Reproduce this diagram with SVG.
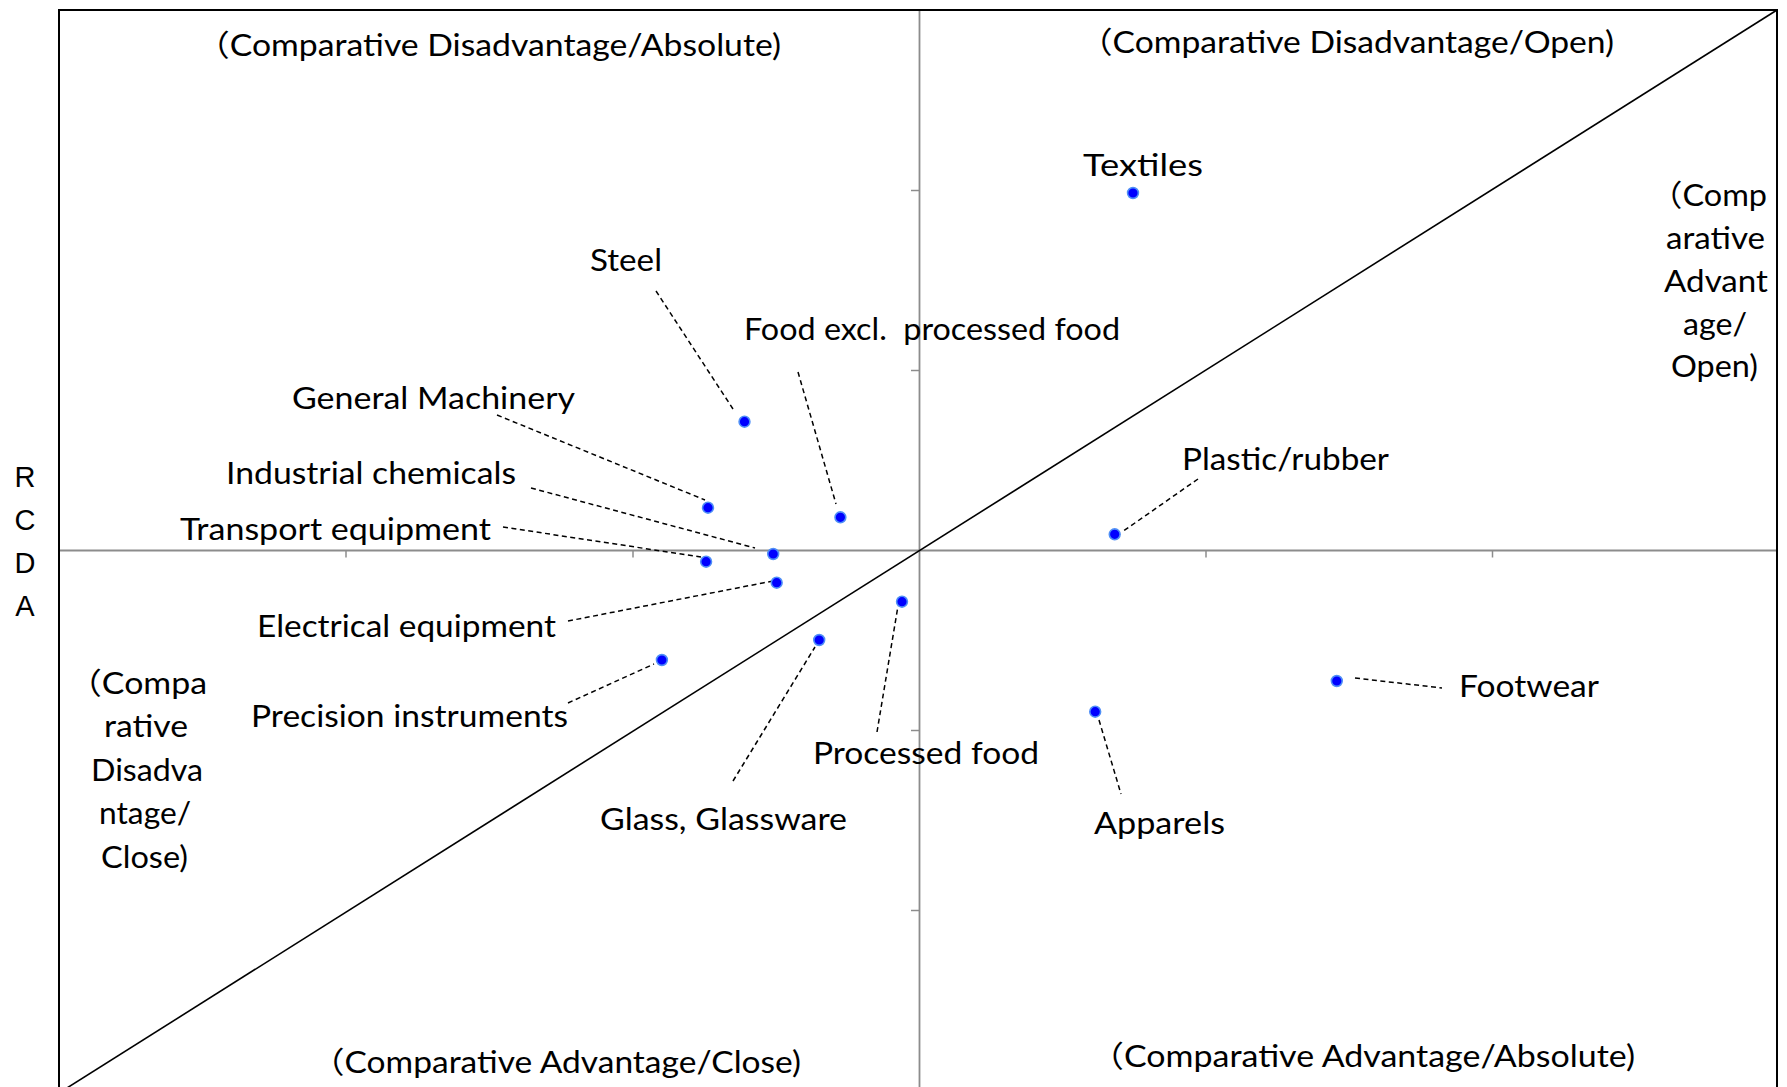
<svg xmlns="http://www.w3.org/2000/svg" width="1787" height="1087" viewBox="0 0 1787 1087">
<style>
text{font-family:Lato,"Noto Sans CJK JP",sans-serif;font-size:30px;fill:#000}
.q{font-size:30px}
.rcda{font-family:"Liberation Sans",Arial,sans-serif;font-size:29px;text-anchor:middle}
.axis{stroke:#8c8c8c;stroke-width:1.8;fill:none}
.tick{stroke:#8c8c8c;stroke-width:1.5}
.dot{fill:#0000ff;stroke:#4f8ff7;stroke-width:1.6}
.lead{stroke:#000;stroke-width:1.5;stroke-dasharray:5 3.5;fill:none}
</style>
<rect width="1787" height="1087" fill="#fff"/>
<g id="axes">
<line class="axis" x1="59" y1="550.5" x2="1777" y2="550.5"/>
<line class="axis" x1="919.5" y1="10" x2="919.5" y2="1087"/>
<g class="tick">
<line x1="346" y1="550.5" x2="346" y2="557.5"/>
<line x1="633" y1="550.5" x2="633" y2="557.5"/>
<line x1="1206" y1="550.5" x2="1206" y2="557.5"/>
<line x1="1492.5" y1="550.5" x2="1492.5" y2="557.5"/>
<line x1="911" y1="190.5" x2="919.5" y2="190.5"/>
<line x1="911" y1="370.5" x2="919.5" y2="370.5"/>
<line x1="911" y1="730.5" x2="919.5" y2="730.5"/>
<line x1="911" y1="910.5" x2="919.5" y2="910.5"/>
</g>
<rect x="59" y="10" width="1718" height="1090" fill="none" stroke="#000" stroke-width="2"/>
<line x1="59" y1="1093" x2="1777" y2="10" stroke="#000" stroke-width="1.6"/>
</g>
<g id="axis-label">
<text class="rcda" x="25" y="487">R</text>
<text class="rcda" x="25" y="530">C</text>
<text class="rcda" x="25" y="573">D</text>
<text class="rcda" x="25" y="616">A</text>
</g>
<g id="quadrant-labels">
<text class="q" x="196" y="56" textLength="585" lengthAdjust="spacingAndGlyphs">（Comparative Disadvantage/Absolute)</text>
<text class="q" x="1079" y="53" textLength="535" lengthAdjust="spacingAndGlyphs">（Comparative Disadvantage/Open)</text>
<text class="q" x="311" y="1073" textLength="490" lengthAdjust="spacingAndGlyphs">（Comparative Advantage/Close)</text>
<text class="q" x="1090" y="1067" textLength="545" lengthAdjust="spacingAndGlyphs">（Comparative Advantage/Absolute)</text>
<text class="q" x="1650" y="206" textLength="117" lengthAdjust="spacingAndGlyphs">（Comp</text>
<text class="q" x="1666" y="249" textLength="99" lengthAdjust="spacingAndGlyphs">arative</text>
<text class="q" x="1664" y="292" textLength="104" lengthAdjust="spacingAndGlyphs">Advant</text>
<text class="q" x="1683" y="335" textLength="64" lengthAdjust="spacingAndGlyphs">age/</text>
<text class="q" x="1671" y="377" textLength="87" lengthAdjust="spacingAndGlyphs">Open)</text>
<text class="q" x="68" y="693.5" textLength="139" lengthAdjust="spacingAndGlyphs">（Compa</text>
<text class="q" x="104" y="737" textLength="84" lengthAdjust="spacingAndGlyphs">rative</text>
<text class="q" x="91" y="780.5" textLength="112" lengthAdjust="spacingAndGlyphs">Disadva</text>
<text class="q" x="99" y="824" textLength="92" lengthAdjust="spacingAndGlyphs">ntage/</text>
<text class="q" x="101" y="867.5" textLength="87" lengthAdjust="spacingAndGlyphs">Close)</text>
</g>
<g id="connectors">
<line class="lead" x1="656" y1="291" x2="733" y2="409"/>
<line class="lead" x1="497" y1="415" x2="705" y2="500"/>
<line class="lead" x1="798" y1="372" x2="836" y2="504"/>
<line class="lead" x1="531" y1="488" x2="755" y2="548"/>
<line class="lead" x1="503" y1="527" x2="701" y2="557"/>
<line class="lead" x1="568" y1="621" x2="773" y2="581"/>
<line class="lead" x1="568" y1="703" x2="654" y2="664"/>
<line class="lead" x1="733" y1="781" x2="815" y2="647"/>
<line class="lead" x1="877" y1="732" x2="898" y2="606"/>
<line class="lead" x1="1198" y1="479" x2="1122" y2="532"/>
<line class="lead" x1="1355" y1="678" x2="1442" y2="688"/>
<line class="lead" x1="1099" y1="720" x2="1121" y2="794"/>
</g>
<g id="textiles"><circle class="dot" cx="1133" cy="193" r="5.4"/><text x="1083" y="175.5" textLength="120" lengthAdjust="spacingAndGlyphs">Textiles</text></g>
<g id="steel"><circle class="dot" cx="744.5" cy="421.7" r="5.4"/><text x="590" y="270.5" textLength="72" lengthAdjust="spacingAndGlyphs">Steel</text></g>
<g id="food-excl"><circle class="dot" cx="840.4" cy="517.3" r="5.4"/><text x="744" y="340" textLength="376" lengthAdjust="spacingAndGlyphs" xml:space="preserve">Food excl.  processed food</text></g>
<g id="general-machinery"><circle class="dot" cx="708" cy="507.7" r="5.4"/><text x="292" y="409" textLength="283" lengthAdjust="spacingAndGlyphs">General Machinery</text></g>
<g id="industrial-chemicals"><circle class="dot" cx="773.2" cy="554" r="5.4"/><text x="226" y="484" textLength="290" lengthAdjust="spacingAndGlyphs">Industrial chemicals</text></g>
<g id="transport-equipment"><circle class="dot" cx="706.1" cy="561.7" r="5.4"/><text x="180" y="540" textLength="311" lengthAdjust="spacingAndGlyphs">Transport equipment</text></g>
<g id="electrical-equipment"><circle class="dot" cx="776.7" cy="582.7" r="5.4"/><text x="257" y="637" textLength="299" lengthAdjust="spacingAndGlyphs">Electrical equipment</text></g>
<g id="precision-instruments"><circle class="dot" cx="661.9" cy="660" r="5.4"/><text x="251" y="727" textLength="317" lengthAdjust="spacingAndGlyphs">Precision instruments</text></g>
<g id="glass"><circle class="dot" cx="819.2" cy="640" r="5.4"/><text x="600" y="830" textLength="247" lengthAdjust="spacingAndGlyphs">Glass, Glassware</text></g>
<g id="processed-food"><circle class="dot" cx="902" cy="601.7" r="5.4"/><text x="813" y="764" textLength="226" lengthAdjust="spacingAndGlyphs">Processed food</text></g>
<g id="plastic-rubber"><circle class="dot" cx="1114.7" cy="534.3" r="5.4"/><text x="1182" y="470" textLength="207" lengthAdjust="spacingAndGlyphs">Plastic/rubber</text></g>
<g id="footwear"><circle class="dot" cx="1336.8" cy="681" r="5.4"/><text x="1459" y="697" textLength="140" lengthAdjust="spacingAndGlyphs">Footwear</text></g>
<g id="apparels"><circle class="dot" cx="1095.2" cy="711.7" r="5.4"/><text x="1094" y="834" textLength="131" lengthAdjust="spacingAndGlyphs">Apparels</text></g>
</svg>
